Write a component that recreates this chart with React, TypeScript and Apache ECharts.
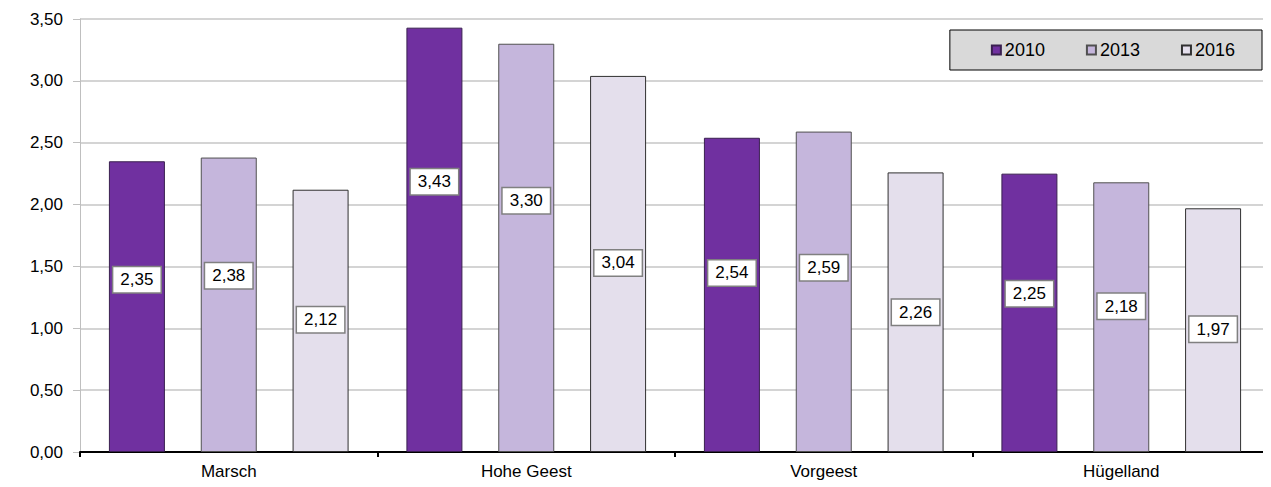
import React, { useEffect, useRef } from "react";
import * as echarts from "echarts";

const categories = ["Marsch", "Hohe Geest", "Vorgeest", "Hügelland"];
const years = ["2010", "2013", "2016"];
const values2010 = [2.35, 3.43, 2.54, 2.25];
const values2013 = [2.38, 3.3, 2.59, 2.18];
const values2016 = [2.12, 3.04, 2.26, 1.97];
const yTicks = [0, 0.5, 1, 1.5, 2, 2.5, 3, 3.5];

// vertical label offsets (px) relative to bar centre, per series
const labelOffsets = [
  [-27, -58, -22, -19],
  [-29, -47, -24, -11],
  [-1, -1, 0, -1],
];

const colors = ["#7030A0", "#C5B6DC", "#E4DFEC"];
const borderColors = ["#3A2050", "#505050", "#303030"];

const fmt = (v: number) => v.toFixed(2).replace(".", ",");

export default function App() {
  const ref = useRef<HTMLDivElement>(null);
  useEffect(() => {
    if (!ref.current) return;
    const chart = echarts.init(ref.current, null, { renderer: "svg" });
    const seriesData = [values2010, values2013, values2016];
    const font = "Liberation Sans, Arial, sans-serif";
    chart.setOption({
      animation: false,
      textStyle: { fontFamily: font },
      legend: {
        data: years,
        right: 9,
        top: 22,
        orient: "horizontal",
        backgroundColor: "#D9D9D9",
        borderColor: "#000",
        borderWidth: 1,
        padding: [11, 27, 11, 41],
        itemWidth: 9,
        itemHeight: 9,
        itemGap: 41,
        icon: "rect",
        textStyle: { fontSize: 18, color: "#000", fontFamily: font, padding: [0, 0, 0, -1] },
      },
      grid: { left: 72, right: 1, top: 11, bottom: 35, containLabel: false },
      xAxis: {
        type: "category",
        data: categories,
        axisLine: { lineStyle: { color: "#000", width: 2 } },
        axisTick: { show: true, length: 5, lineStyle: { color: "#000", width: 2 } },
        axisLabel: { fontSize: 17, color: "#000", margin: 11, fontFamily: font },
        splitLine: { show: false },
      },
      yAxis: {
        type: "value",
        min: yTicks[0],
        max: yTicks[yTicks.length - 1],
        interval: 0.5,
        axisLine: { show: true, lineStyle: { color: "#BFBFBF", width: 1 } },
        axisTick: { show: true, length: 7, lineStyle: { color: "#BFBFBF" } },
        axisLabel: {
          fontSize: 17,
          color: "#000",
          margin: 17,
          fontFamily: font,
          formatter: (v: number) => fmt(v),
        },
        splitLine: { lineStyle: { color: "#C6C6C6", width: 1.5 } },
      },
      series: years.map((y, si) => ({
        name: y,
        type: "bar",
        barWidth: 56,
        barGap: "64%",
        itemStyle: {
          color: colors[si],
          borderColor: borderColors[si],
          borderWidth: 1,
        },
        data: seriesData[si].map((v, ci) => ({
          value: v,
          label: { offset: [0, labelOffsets[si][ci]] },
        })),
        label: {
          show: true,
          position: "inside",
          formatter: (p: any) => fmt(p.value),
          fontSize: 17,
          color: "#000",
          fontFamily: font,
          backgroundColor: "#fff",
          borderColor: "#808080",
          borderWidth: 1.5,
          padding: [5, 7, 3, 7],
        },
      })),
    });
    return () => chart.dispose();
  }, []);
  return <div ref={ref} style={{ width: 1263, height: 479 }} />;
}
